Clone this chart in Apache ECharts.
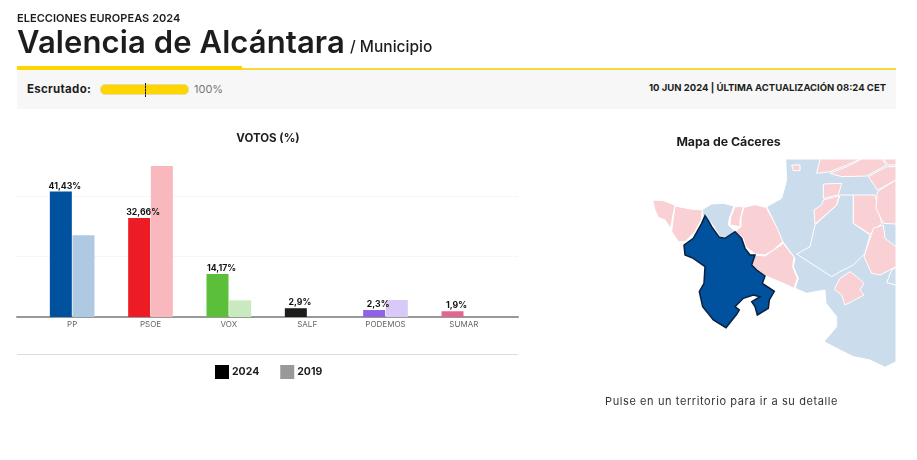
<!DOCTYPE html>
<html><head><meta charset="utf-8">
<script src="https://cdn.jsdelivr.net/npm/echarts@6/dist/echarts.min.js"></script>
<style>
html,body{margin:0;padding:0;background:#fff;width:917px;height:460px;overflow:hidden;font-family:Inter,"Open Sans",sans-serif;color:#1d1d1b}
#chart{position:absolute;left:0;top:0;width:917px;height:460px}
.t{position:absolute;white-space:nowrap}
.box{position:absolute}
</style></head><body>
<div id="chart"></div>
<div class="t" style="left:17px;top:11px;font-size:11px;font-weight:600;line-height:14px;letter-spacing:.05px">ELECCIONES EUROPEAS 2024</div>
<div class="t" style="left:17px;top:23px;font-size:31px;font-weight:600;line-height:38px;letter-spacing:.1px">Valencia de Alcántara</div>
<div class="t" style="left:350px;top:37px;font-size:15.5px;font-weight:500;line-height:20px">/ Municipio</div>
<div class="box" style="left:17px;top:70px;width:879px;height:39px;background:#f7f7f7"></div>
<div class="box" style="left:17px;top:68px;width:879px;height:2px;background:#f6d93a"></div>
<div class="box" style="left:17px;top:66px;width:225px;height:4px;background:#ffd500"></div>
<div class="t" style="left:27px;top:81px;font-size:11.5px;font-weight:700;line-height:16px;letter-spacing:.3px">Escrutado:</div>
<div class="box" style="left:100px;top:84px;width:87px;height:9px;border:1px solid #e3dcae;border-radius:5px;background:#ffd500"></div>
<div class="box" style="left:145px;top:83px;width:1px;height:14px;background:repeating-linear-gradient(#111 0 2px,#666 2px 3px)"></div>
<div class="t" style="left:194px;top:81px;font-size:11px;line-height:16px;color:#777">100%</div>
<div class="t" style="right:31px;top:81px;font-size:9.5px;font-weight:700;line-height:14px">10 JUN 2024 | ÚLTIMA ACTUALIZACIÓN 08:24 CET</div>
<div class="t" style="left:605px;top:393px;font-size:11px;line-height:16px;letter-spacing:.6px;color:#333">Pulse en un territorio para ir a su detalle</div>
<script>
const categories = ['PP','PSOE','VOX','SALF','PODEMOS','SUMAR'];
const votes2024 = [41.43,32.66,14.17,2.9,2.3,1.9];
const votes2019 = [27,49.8,5.5,null,5.6,null];
const colors2024 = ['#00529f','#ed1c24','#5bbf3a','#1d1d1b','#8e63e6','#e0688f'];
const colors2019 = ['#b0c9e2','#f8b8bd','#c9eabf','#d0d0d0','#d9c9f7','#f3c3d2'];
const BLUE='#cbdcec', PINK='#f9d0d3', DARK='#00529f';
const mapRegions = [
 ['base',BLUE,[[437,87],[768,87],[768,695],[735,712],[690,690],[640,680],[600,660],[552,635],[590,590],[590,560],[558,520],[555,480],[500,490],[465,475],[475,445],[460,410],[465,385],[425,330],[395,260],[380,230],[425,205],[440,150]]],
 ['n2',PINK,[[455,105],[480,105],[480,122],[460,122]]],
 ['n3',BLUE,[[600,195],[640,195],[640,280],[690,315],[675,370],[640,405],[600,425],[575,440],[470,372],[510,350],[525,285],[590,225]]],
 ['g',PINK,[[550,162],[605,160],[595,195],[550,205]]],
 ['h',PINK,[[550,210],[597,197],[590,225],[525,282],[522,240],[545,225]]],
 ['i',PINK,[[540,87],[660,87],[620,105],[570,125],[530,130]]],
 ['j',PINK,[[665,87],[725,87],[740,105],[680,138],[605,140],[570,130],[625,108]]],
 ['k',PINK,[[730,87],[768,87],[768,105],[745,105]]],
 ['l',PINK,[[768,110],[768,150],[712,180],[685,140],[740,110]]],
 ['m',PINK,[[640,195],[705,195],[725,280],[690,312],[640,280]]],
 ['nn',PINK,[[768,150],[768,282],[730,280],[708,235],[712,185]]],
 ['o',PINK,[[700,295],[730,285],[735,325],[768,350],[768,410],[720,435],[695,430],[672,380]]],
 ['r',BLUE,[[768,412],[768,465],[740,458],[755,420]]],
 ['p',PINK,[[630,425],[650,440],[672,460],[660,480],[672,495],[640,512],[615,525],[605,495],[583,478],[600,445]]],
 ['a',PINK,[[38,210],[70,212],[105,225],[98,260],[92,295],[75,270],[55,262],[45,240]]],
 ['b',PINK,[[105,228],[150,237],[188,240],[183,270],[165,305],[135,335],[115,335],[95,305],[100,265]]],
 ['c',BLUE,[[188,238],[215,222],[250,220],[282,228],[268,265],[265,285],[285,303],[260,322],[240,322],[222,290],[195,257],[188,258]]],
 ['d',PINK,[[285,230],[310,230],[300,270],[300,290],[270,285],[272,262]]],
 ['e',PINK,[[312,232],[345,224],[378,232],[395,262],[412,295],[428,335],[400,360],[375,375],[345,372],[318,350],[310,325],[285,305],[303,290],[303,262]]],
 ['f',PINK,[[345,375],[375,378],[430,340],[462,382],[458,410],[472,445],[462,475],[430,460],[375,437],[335,410]]],
 ['Valencia de Alcántara',DARK,[[195,257],[205,272],[215,290],[238,322],[255,325],[285,305],[305,325],[315,355],[330,375],[345,375],[335,405],[350,420],[375,438],[367,460],[403,484],[388,510],[385,535],[352,555],[345,530],[335,515],[360,500],[340,495],[310,505],[285,530],[298,540],[290,553],[258,593],[220,570],[188,530],[178,485],[192,460],[195,410],[160,385],[135,375],[132,345],[160,325],[185,280]]]
];
const geoJson = {type:'FeatureCollection',features:mapRegions.map(r=>({type:'Feature',properties:{name:r[0]},geometry:{type:'Polygon',coordinates:[r[2].concat([r[2][0]])]}}))};
echarts.registerMap('caceres',geoJson);
const font='Inter,"Open Sans",sans-serif';
const fmt=p=>String(p.value).replace('.',',')+'%';
const chart=echarts.init(document.getElementById('chart'),null,{renderer:'canvas'});
chart.setOption({
 animation:false,
 title:[
  {text:'VOTOS (%)',left:263,top:128,textAlign:'center',textStyle:{fontFamily:font,fontSize:11.5,fontWeight:700,color:'#1d1d1b'}},
  {text:'Mapa de Cáceres',left:723.5,top:131,textAlign:'center',textStyle:{fontFamily:font,fontSize:12.3,fontWeight:700,color:'#1d1d1b'}}
 ],
 legend:{left:210,top:360,itemWidth:14,itemHeight:14,itemGap:21,icon:'rect',data:['2024','2019'],selectedMode:false,
  textStyle:{fontFamily:font,fontSize:10.5,fontWeight:700,color:'#1d1d1b',padding:[0,0,0,-2]}},
 grid:[
  {left:33,right:414,top:165.5,height:151.5},
  {left:17,right:399,top:195.8,height:121.2}
 ],
 xAxis:[
  {type:'category',gridIndex:0,data:categories,axisLine:{show:false},axisTick:{show:false},
   axisLabel:{fontFamily:font,fontSize:8,color:'#666',margin:4,interval:0}},
  {type:'value',gridIndex:1,min:0,max:1,axisLine:{show:true,onZero:false,lineStyle:{color:'#999',width:2}},axisTick:{show:false},axisLabel:{show:false},splitLine:{show:false}}
 ],
 yAxis:[
  {type:'value',gridIndex:0,min:0,max:50,show:false},
  {type:'value',gridIndex:1,min:0,max:40,interval:20,axisLine:{show:false},axisTick:{show:false},axisLabel:{show:false},splitLine:{show:true,lineStyle:{color:'#eee',width:1,type:'dotted'}}}
 ],
 series:[
  {name:'2024',type:'bar',xAxisIndex:0,yAxisIndex:0,barWidth:22,barGap:'3%',itemStyle:{color:'#000'},
   data:votes2024.map((v,i)=>({value:v,itemStyle:{color:colors2024[i]}})),
   label:{show:true,position:'top',distance:1,offset:[4,0],formatter:fmt,fontFamily:font,fontSize:8.7,fontWeight:700,color:'#111'}},
  {name:'2019',type:'bar',xAxisIndex:0,yAxisIndex:0,barWidth:22,itemStyle:{color:'#999'},
   data:votes2019.map((v,i)=>({value:v,itemStyle:{color:colors2019[i]}}))},
  {type:'map',map:'caceres',silent:true,showLegendSymbol:false,left:640,top:130,width:270,height:250,aspectScale:1,
   boundingCoords:[[0,0],[810,750]],
   projection:{project:p=>p,unproject:p=>p},
   label:{show:false},emphasis:{disabled:true},select:{disabled:true},
   itemStyle:{borderColor:'#fff',borderWidth:1},
   data:mapRegions.map(r=>({name:r[0],value:1,itemStyle:r[1]===DARK?{areaColor:DARK,borderColor:'#0b1f3f',borderWidth:1.5}:{areaColor:r[1]}}))}
 ],
 graphic:[{type:'rect',silent:true,shape:{x:17,y:354,width:501,height:1},style:{fill:'#ddd'}}]
});
</script>
</body></html>
